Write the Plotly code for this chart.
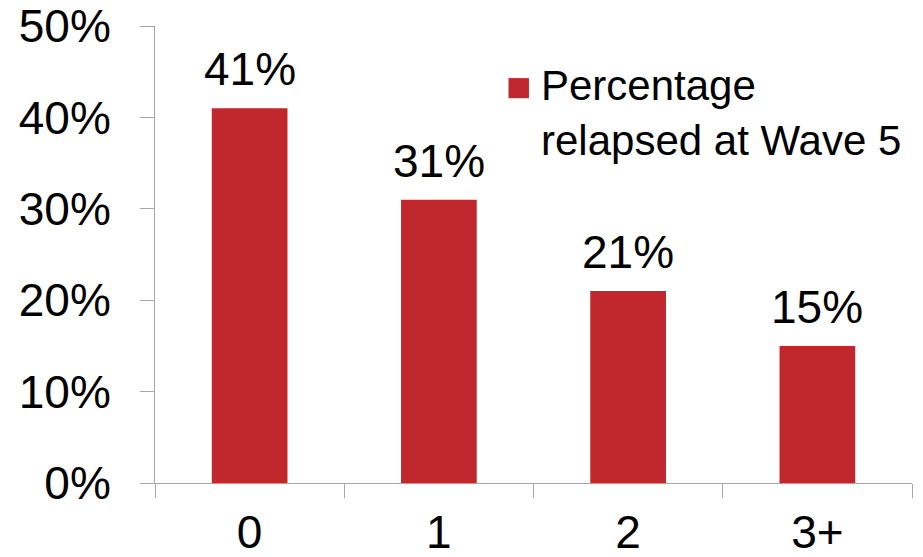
import plotly.graph_objects as go

# Number of categories vs. share relapsed at wave 5
categories = ["0", "1", "2", "3+"]
relapsed = [0.41, 0.31, 0.21, 0.15]
value_labels = ["41%", "31%", "21%", "15%"]
y_ticks = [0, 0.1, 0.2, 0.3, 0.4, 0.5]
y_tick_labels = ["0%", "10%", "20%", "30%", "40%", "50%"]
series_name = "Percentage<br>relapsed at Wave 5"

BAR_COLOR = "#C1282D"
AXIS_COLOR = "#A6A6A6"
FONT = "Liberation Sans, Arial, sans-serif"

fig = go.Figure()
fig.add_trace(go.Bar(
    x=categories,
    y=relapsed,
    marker=dict(color=BAR_COLOR, line=dict(width=0)),
    showlegend=False,
))

# Value labels above each bar
for cat, val, lab in zip(categories, relapsed, value_labels):
    fig.add_annotation(x=cat, y=val, text=lab, showarrow=False,
                       xanchor="center", yanchor="bottom", yshift=11,
                       font=dict(family=FONT, size=46, color="black"))

# Legend swatch and label
fig.add_shape(type="rect", xref="paper", yref="paper",
              x0=0.467, x1=0.494, y0=0.842, y1=0.886,
              fillcolor=BAR_COLOR, line=dict(width=0))
fig.add_annotation(xref="paper", yref="paper", x=0.507, y=0.864,
                   xanchor="left", yanchor="top", yshift=28,
                   text=series_name, showarrow=False, align="left",
                   font=dict(family=FONT, size=42, color="black"))

fig.update_layout(
    width=923, height=557,
    margin=dict(l=155, r=11, t=26, b=74, autoexpand=False),
    paper_bgcolor="white", plot_bgcolor="white",
    bargap=0.6,
    font=dict(family=FONT, color="black"),
)
fig.update_xaxes(
    type="category", range=[-0.5, 3.5], automargin=False,
    showline=True, linecolor=AXIS_COLOR, linewidth=1,
    ticks="outside", tickson="boundaries", ticklen=14, tickcolor=AXIS_COLOR,
    tickfont=dict(size=46), ticklabelstandoff=9,
    showgrid=False, zeroline=False,
)
fig.update_yaxes(
    range=[0, 0.5], tickvals=y_ticks, ticktext=y_tick_labels, automargin=False,
    showline=True, linecolor=AXIS_COLOR, linewidth=1,
    ticks="outside", ticklen=14, tickcolor=AXIS_COLOR,
    tickfont=dict(size=46), ticklabelstandoff=20,
    showgrid=False, zeroline=False,
)

fig.write_html("out.html")
